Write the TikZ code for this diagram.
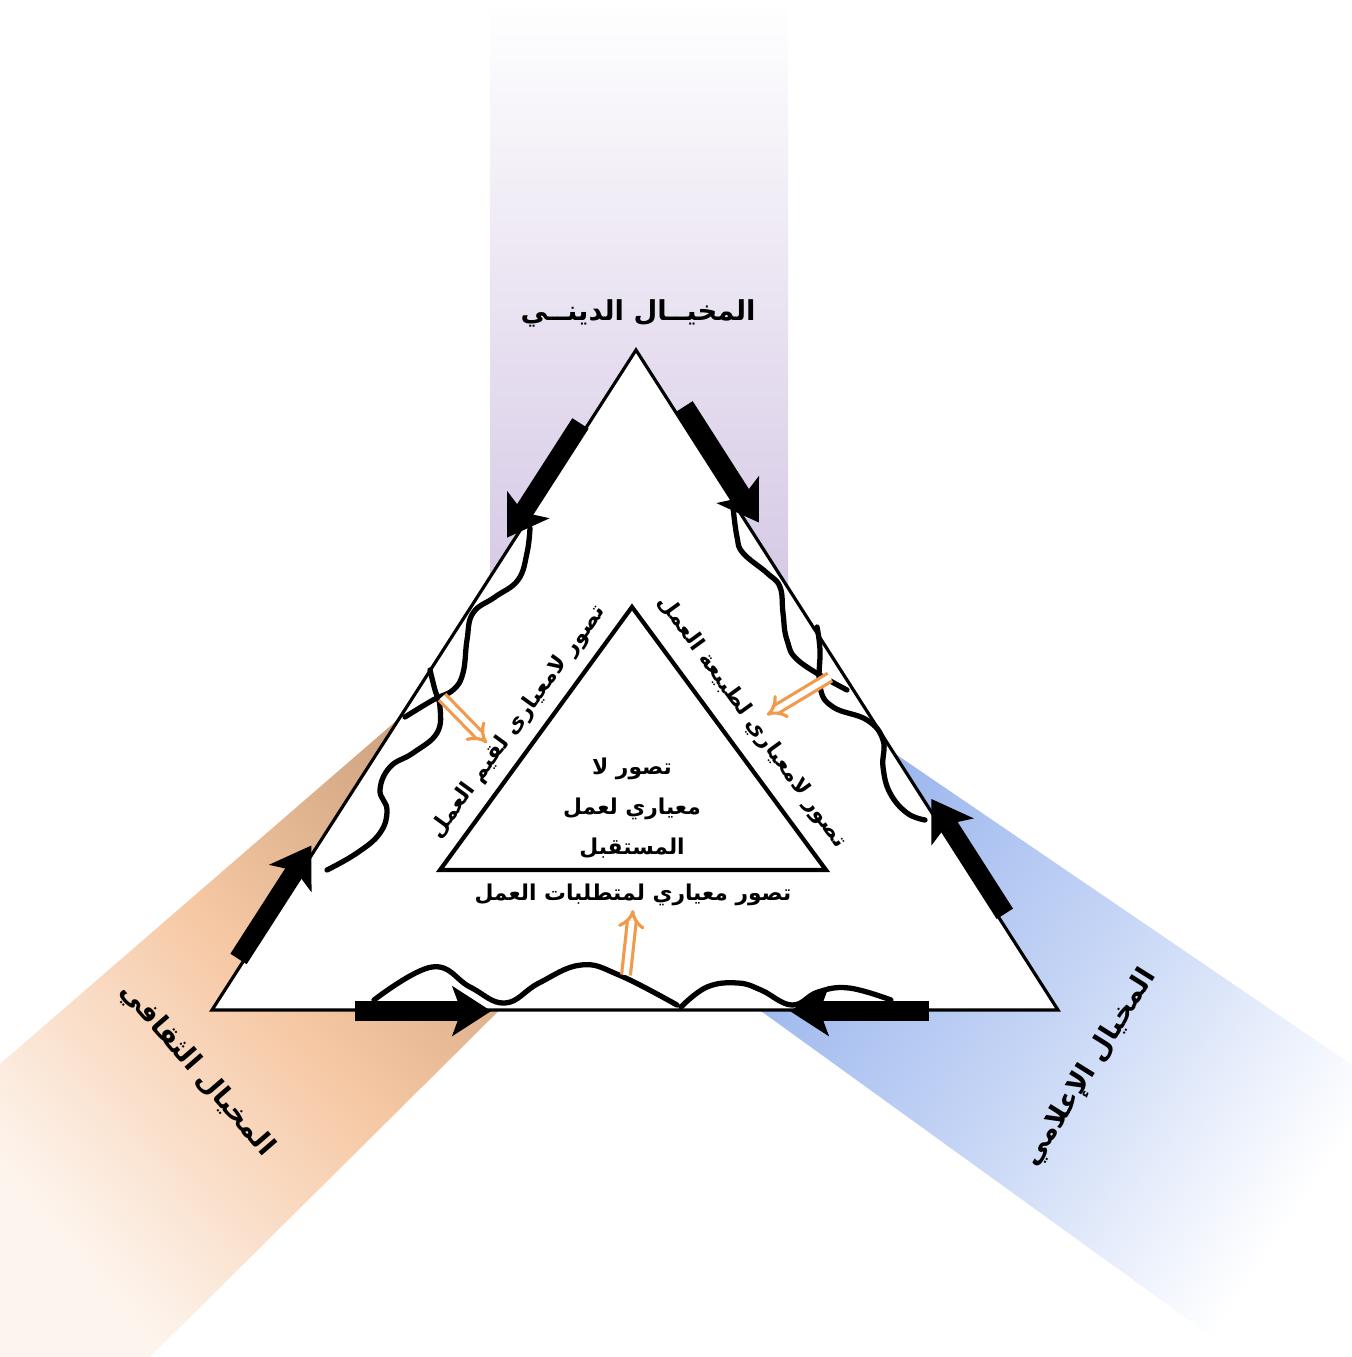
\documentclass[tikz,border=0pt]{standalone}
\usepackage{fontspec}
\usetikzlibrary{arrows.meta,calc}
\TeXXeTstate=1
\newfontfamily\arabe[Script=Arabic]{DejaVu Sans}
\definecolor{lavanda}{HTML}{D2C4E3}
\definecolor{durazno}{HTML}{F6C8A4}
\definecolor{canela}{HTML}{C99D7A}
\definecolor{celeste}{HTML}{C4D4F5}
\definecolor{anil}{HTML}{93B0EC}
\definecolor{mandarina}{HTML}{F29A4C}
\newcommand{\rtl}[1]{\beginR #1\endR}

\begin{document}
\begin{tikzpicture}[x=0.01cm, y=-0.01cm,
      t/.style={font=\arabe\bfseries\fontsize{6.2}{11.4}\selectfont, inner sep=1pt, align=center},
      tg/.style={t, font=\arabe\bfseries\fontsize{7.8}{10}\selectfont},
      gruesa/.style={line width=5.5pt, -{Stealth[length=11pt, width=14pt, inset=2.5pt]}},
      onda/.style={line width=1.5pt, line cap=round, line join=round},
      doble/.style={draw=mandarina, line width=0.9pt, double=white, double distance=1.6pt,
                    -{Implies[scale=1.4]}}]
    \useasboundingbox (0,0) rectangle (1352,1357);
    % franjas
    \shade[top color=white, bottom color=lavanda] (490,0) rectangle (788,640);
    \shade[top color=durazno!20, bottom color=canela, middle color=durazno, shading angle=131]
      (470,657) -- (0,1064) -- (0,1357) -- (150,1357) -- (560,950) -- cycle;
    \shade[top color=white, bottom color=anil, middle color=celeste, shading angle=236]
      (850,723) -- (1352,1065) -- (1352,1357) -- (1240,1357) -- (700,967) -- cycle;
    % triangulo exterior
    \coordinate (top) at (636,350);
    \coordinate (bl) at (212,1010);
    \coordinate (br) at (1058,1010);
    \draw[line width=0.9pt, fill=white] (top) -- (bl) -- (br) -- cycle;
    % triangulo interior
    \coordinate (itop) at (632,607);
    \coordinate (ibl) at (440,870);
    \coordinate (ibr) at (826,870);
    \draw[line width=1.2pt] (itop) -- (ibl) -- (ibr) -- cycle;
    % textos
    \node[tg] (dini) at (638,313) {\rtl{المخيــال الدينــي}};
    \node[tg, rotate=-49] (thaqafi) at (197,1070) {\rtl{المخيال الثقافي}};
    \node[tg, rotate=58] (ilami) at (1090,1068) {\rtl{المخيال الإعلامي}};
    \node[t] (centro) at (632,808) {\rtl{تصور لا}\\\rtl{معياري لعمل}\\\rtl{المستقبل}};
    \node[t] (mutat) at (633,895) {\rtl{تصور معياري لمتطلبات العمل}};
    \node[t, rotate=54] (qiyam) at (518,722) {\rtl{تصور لامعيارى لقيم العمل}};
    \node[t, rotate=-54] (tabia) at (752,722) {\rtl{تصور لامعياري لطبيعة العمل}};
    % flechas gruesas
    \draw[gruesa] ($(top)!0.117!(bl)!2pt!-90:(bl)$) coordinate (a1) -- ($(top)!0.29!(bl)!2pt!-90:(bl)$) coordinate (a2);
    \draw[gruesa] ($(top)!0.094!(br)!3pt!90:(br)$) coordinate (b1) -- ($(top)!0.27!(br)!3pt!90:(br)$) coordinate (b2);
    \draw[gruesa] ($(bl)!0.073!(top)!1.5pt!90:(top)$) coordinate (c1) -- ($(bl)!0.245!(top)!1.5pt!90:(top)$) coordinate (c2);
    \draw[gruesa] ($(br)!0.14!(top)!2pt!-90:(top)$) coordinate (d1) -- ($(br)!0.314!(top)!2pt!-90:(top)$) coordinate (d2);
    \draw[gruesa] ($(bl)!0.169!(br)!0.3pt!-90:(br)$) coordinate (e1) -- ($(bl)!0.33!(br)!0.3pt!-90:(br)$) coordinate (e2);
    \draw[gruesa] ($(br)!0.153!(bl)!0.3pt!90:(bl)$) coordinate (f1) -- ($(br)!0.317!(bl)!0.3pt!90:(bl)$) coordinate (f2);
    % ondas
    \draw[onda] plot[smooth, tension=0.7] coordinates {(530,528) (527,553) (518,580) (495,597)
      (473,613) (467,640) (463,673) (453,690) (433,700) (405,717)};
    \draw[onda] plot[smooth, tension=0.7] coordinates {(430,670) (435,690) (440,707) (437,733)
      (413,753) (390,767) (380,790) (387,810) (380,833) (357,853) (327,870)};
    \draw[onda] plot[smooth, tension=0.7] coordinates {(733,507) (737,537) (743,553) (767,573)
      (780,587) (783,613) (787,640) (800,662) (847,690)};
    \draw[onda] plot[smooth, tension=0.7] coordinates {(817,627) (820,650) (820,687) (833,707)
      (867,720) (883,740) (883,767) (890,793) (907,813) (925,820)};
    \draw[onda] plot[smooth, tension=0.7] coordinates {(374,1000) (432,967) (470,987) (505,1003)
      (539,983) (581,965) (619,975) (677,1005)};
    \draw[onda] plot[smooth, tension=0.7] coordinates {(681,1007) (707,987) (738,983) (761,990)
      (792,1005) (818,992) (849,988) (891,1000)};
    % flechas naranjas
    \coordinate (o1) at (442,697);
    \coordinate (o2) at (487,743);
    \coordinate (o3) at (830,677);
    \coordinate (o4) at (767,715);
    \coordinate (o5) at (626,975);
    \draw[doble] (o1) -- (o2);
    \draw[doble] (o3) -- (o4);
    \draw[doble] (o5) -- (mutat.south);
\end{tikzpicture}
\end{document}
